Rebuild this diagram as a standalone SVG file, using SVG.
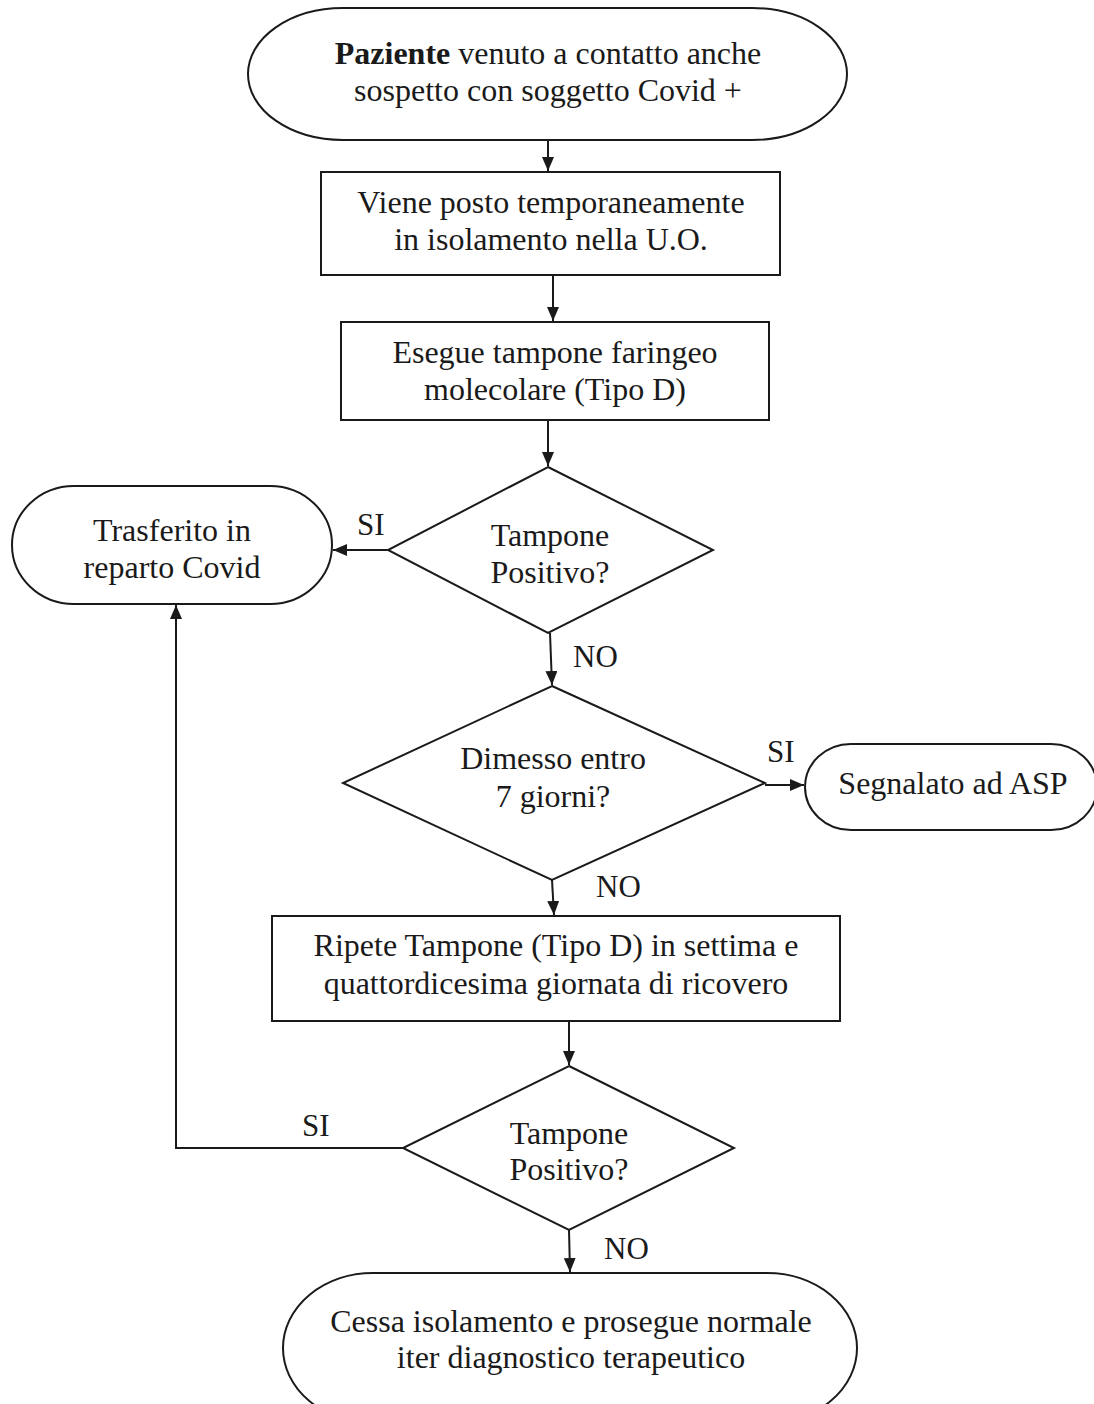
<svg xmlns="http://www.w3.org/2000/svg" width="1094" height="1404" viewBox="0 0 1094 1404">
<style>
.s{fill:#fff;stroke:#1a1a1a;stroke-width:2}
.t{font-family:"Liberation Serif","Times New Roman",serif;font-size:32px;fill:#1a1a1a;text-anchor:middle}
.l{font-family:"Liberation Serif","Times New Roman",serif;font-size:31px;fill:#1a1a1a}
.c{fill:none;stroke:#1a1a1a;stroke-width:2}
</style>
<defs>
<marker id="ah" viewBox="0 0 14 12" refX="14" refY="6" markerWidth="14" markerHeight="12" markerUnits="userSpaceOnUse" orient="auto">
<path d="M0,0 L14,6 L0,12 Z" fill="#1a1a1a"/>
</marker>
</defs>
<rect width="1094" height="1404" fill="#fff"/>
<g id="n1"><rect class="s" x="248" y="8" width="599" height="132" rx="95" ry="66"/>
<text class="t" x="548" y="64"><tspan font-weight="bold">Paziente</tspan> venuto a contatto anche</text>
<text class="t" x="548" y="101">sospetto con soggetto Covid +</text></g>
<g id="n2"><rect class="s" x="321" y="172" width="459" height="103"/>
<text class="t" x="551" y="213">Viene posto temporaneamente</text>
<text class="t" x="551" y="250">in isolamento nella U.O.</text></g>
<g id="n3"><rect class="s" x="341" y="322" width="428" height="98"/>
<text class="t" x="555" y="363">Esegue tampone faringeo</text>
<text class="t" x="555" y="400">molecolare (Tipo D)</text></g>
<g id="d1"><polygon class="s" points="548,467 713,550 548,633 388,550"/>
<text class="t" x="550" y="546">Tampone</text>
<text class="t" x="550" y="583">Positivo?</text></g>
<g id="n4"><rect class="s" x="12" y="486" width="320" height="118" rx="62" ry="59"/>
<text class="t" x="172" y="541">Trasferito in</text>
<text class="t" x="172" y="578">reparto Covid</text></g>
<g id="d2"><polygon class="s" points="552,686 765,783 552,880 343,783"/>
<text class="t" x="553" y="769">Dimesso entro</text>
<text class="t" x="553" y="807">7 giorni?</text></g>
<g id="n5"><rect class="s" x="805" y="744" width="292" height="86" rx="46" ry="43"/>
<text class="t" x="953" y="794">Segnalato ad ASP</text></g>
<g id="n6"><rect class="s" x="272" y="916" width="568" height="105"/>
<text class="t" x="556" y="956">Ripete Tampone (Tipo D) in settima e</text>
<text class="t" x="556" y="994">quattordicesima giornata di ricovero</text></g>
<g id="d3"><polygon class="s" points="569,1066 734,1148 569,1230 403,1148"/>
<text class="t" x="569" y="1144">Tampone</text>
<text class="t" x="569" y="1180">Positivo?</text></g>
<g id="n7"><rect class="s" x="283" y="1273" width="574" height="150" rx="90" ry="75"/>
<text class="t" x="571" y="1332">Cessa isolamento e prosegue normale</text>
<text class="t" x="571" y="1368">iter diagnostico terapeutico</text></g>
<g id="connectors">
<line class="c" x1="548" y1="140" x2="548" y2="171" marker-end="url(#ah)"/>
<line class="c" x1="553" y1="276" x2="553" y2="321" marker-end="url(#ah)"/>
<line class="c" x1="548" y1="421" x2="548" y2="466" marker-end="url(#ah)"/>
<line class="c" x1="388" y1="550" x2="333" y2="550" marker-end="url(#ah)"/>
<line class="c" x1="550" y1="633" x2="552" y2="685" marker-end="url(#ah)"/>
<line class="c" x1="765" y1="785" x2="804" y2="785" marker-end="url(#ah)"/>
<line class="c" x1="552" y1="880" x2="554" y2="915" marker-end="url(#ah)"/>
<line class="c" x1="569" y1="1022" x2="569" y2="1065" marker-end="url(#ah)"/>
<polyline class="c" points="403,1148 176,1148 176,605" marker-end="url(#ah)"/>
<line class="c" x1="569" y1="1230" x2="570" y2="1272" marker-end="url(#ah)"/>
<text class="l" x="357" y="535">SI</text>
<text class="l" x="573" y="667">NO</text>
<text class="l" x="767" y="762">SI</text>
<text class="l" x="596" y="897">NO</text>
<text class="l" x="302" y="1136">SI</text>
<text class="l" x="604" y="1259">NO</text>
</g>
</svg>
